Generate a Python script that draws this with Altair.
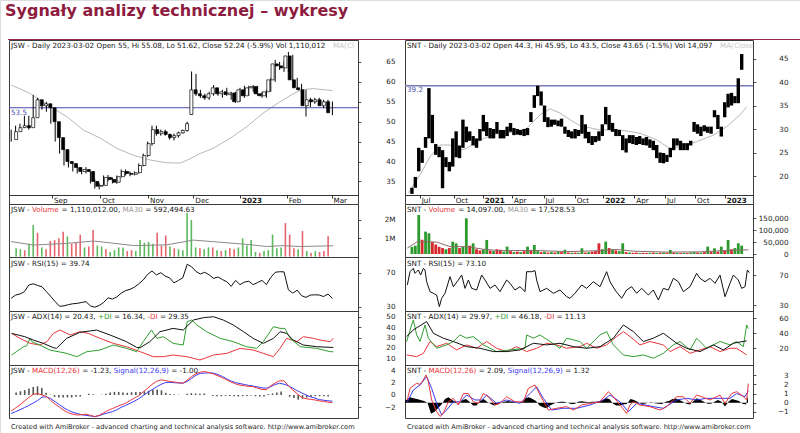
import altair as alt
import pandas as pd

FONT = "DejaVu Sans"
FS = 7.2
W, H = 800, 433

# ---------------------------------------------------------------- JSW (one slot = two sessions)
jsw_month_pos = [9.27, 20.25, 31.1, 41.4, 52.0, 62.6, 72.8]
jsw_month_lab = ["Sep", "Oct", "Nov", "Dec", "2023", "Feb", "Mar"]

jsw_open = [45.5, 47.5, 48.5, 49, 48.5, 51, 55.5, 54, 54.5, 53.5,
            50, 46, 43, 40, 39.5, 38.5, 37.5, 38, 37.5, 35,
            33.8, 34, 36, 35.5, 34.8, 36.2, 37.5, 37, 36.8, 37.2,
            39, 41.5, 44.5, 48, 47, 47.5, 46.8, 46, 46.5, 47.2,
            47.8, 51.8, 58, 57, 56.5, 56, 57, 58.5, 57, 57.5,
            56.8, 57.2, 55, 58, 56.5, 58.5, 58.8, 57, 56.5, 57.5,
            60.5, 64.5, 64, 63.5, 66.5, 60.5, 58.5, 58, 54, 55.5,
            55, 55.5, 54, 55]
jsw_high = [48, 49, 49.5, 51.5, 51.5, 56.7, 56, 55, 55, 54,
            50, 46.5, 43.5, 41, 40, 39, 38.5, 38.6, 37.5, 35.5,
            34.5, 36.5, 36.6, 36, 36.5, 38, 38, 37.5, 37.5, 39.5,
            42, 45, 49, 49, 48, 48, 47, 47, 47.5, 48,
            50, 62.6, 62, 58, 57, 57.5, 59.2, 58.5, 58, 58.5,
            57.5, 57.5, 58.5, 59, 59, 59.2, 59, 57.5, 58, 61,
            65.5, 65, 65, 67.5, 66.8, 61, 59.5, 58, 56, 56,
            56, 55.5, 55.5, 55.08]
jsw_low = [45, 47, 48, 48.5, 48, 51, 53.5, 53, 52.5, 49.5,
           45, 42, 39, 38.5, 37.5, 37, 36.8, 37, 34.5, 33.2,
           33, 34, 35, 34.5, 34.4, 36, 36.5, 36.3, 36.5, 37,
           38.8, 41.2, 44, 46.5, 46.5, 46.5, 45.5, 45.3, 46, 47,
           47.5, 51.7, 56.5, 56, 55.5, 55.5, 56.5, 56.5, 56, 56.5,
           55.5, 54.7, 55, 56, 56.5, 57.5, 56.5, 56, 56, 57.5,
           60, 63, 62.5, 62.5, 60, 58, 57, 51.3, 53.7, 54.5,
           54.2, 53.4, 53.8, 51.62]
jsw_close = [47.5, 48.5, 49, 48.5, 51, 55.5, 54, 54.5, 53.5, 50,
             46, 43, 40, 39.5, 38.5, 37.5, 38, 37.5, 35, 33.8,
             34, 36, 35.5, 34.8, 36.2, 37.5, 37, 36.8, 37.2, 39,
             41.5, 44.5, 48, 47, 47.5, 46.8, 46, 46.5, 47.2, 47.8,
             49.5, 58, 57, 56.5, 56, 57, 58.5, 57, 57.5, 56.8,
             57.2, 55, 58, 56.5, 58.5, 58.8, 57, 56.5, 57.5, 60.5,
             64.5, 64, 63.5, 66.5, 60.5, 58.5, 58, 54, 55.5, 55,
             55.5, 54, 55, 52.24]
jsw_ma_pos = [0, 4.3, 8.8, 12.6, 16.4, 20.2, 24, 27.7, 31.5, 35.3, 38.4, 40.5,
              42.9, 45.9, 49.7, 53.5, 57.2, 61.1, 64.1, 66, 68.6, 73]
jsw_ma = [59.2, 57.1, 53.8, 51.3, 47.9, 45.9, 43.3, 41.6, 40.4, 39.7, 39.6, 40.6,
          42, 43.3, 45.8, 48.7, 52.1, 55, 57, 58, 58.3, 57.8]
jsw_level = [53.5]

jsw_vol = [0.45, 0.4, 0.35, 0.7, 1.73, 1.3, 0.5, 0.4, 0.85, 0.9,
           1.0, 1.35, 1.1, 0.7, 0.75, 1.2, 0.5, 0.55, 1.45, 0.6,
           0.55, 0.4, 0.25, 0.35, 0.5, 0.5, 0.3, 0.35, 0.3, 0.9,
           0.75, 0.8, 0.7, 1.3, 0.6, 1.15, 0.55, 0.45, 0.4, 0.35,
           2.38, 2.0, 0.5, 0.45, 0.4, 0.5, 0.5, 0.35, 0.3, 0.35,
           0.45, 0.4, 0.5, 1.0, 0.6, 0.9, 0.25, 0.2, 0.3, 0.35,
           1.2, 0.45, 0.5, 1.83, 1.2, 0.45, 0.4, 1.4, 0.3, 0.2,
           0.3, 0.25, 0.3, 1.11]
jsw_vol_dir = list("ggrggrgrrr" "rrgrrrgrrg" "grggggrrgg" "gggrrrgrgg"
                   "gggrggrgrg" "rrgggggrgg" "gggrrrgrgr" "grrr")
jsw_vma_pos = [0, 5, 12.6, 18.7, 22.5, 27.8, 35.3, 41.4, 46.7, 54.3, 58, 61.8, 65.6, 73.2]
jsw_vma = [0.82, 0.63, 0.72, 0.85, 0.75, 0.6, 0.64, 0.9, 0.8, 0.65, 0.55, 0.6, 0.55, 0.59]

jsw_rsi = [40, 43.8, 45, 47.7, 55.5, 57, 55, 53.5, 47.7, 42,
           36, 30.5, 31, 32.5, 33.5, 34, 35, 36, 31, 29.5,
           31.5, 35, 40.5, 39, 41.5, 46, 49, 50.5, 53, 57,
           61.4, 68, 72, 67.5, 70, 66, 64, 58, 61, 64,
           80, 77, 71.5, 68.5, 70.5, 67.5, 63.4, 65, 62, 59.4,
           54, 61, 56, 59, 60, 56, 58.5, 61, 56, 64.5,
           70.5, 71.2, 71, 50, 46, 49.5, 43, 41, 43.8, 44,
           43.8, 42, 45, 39.74]

jsw_adx_pos = [0.1, 3.1, 5.0, 7.3, 9.6, 10.3, 12.6, 15.6, 19.4, 22.5, 26.2, 28.5, 29.3, 31.5,
               33.8, 36.8, 39.1, 41.4, 43.7, 46.0, 48.2, 50.5, 52.8, 55.0, 57.3, 59.6, 61.1,
               62.6, 64.1, 66.4, 69.4, 73.2]
jsw_adx = [34, 30.8, 27.6, 24.4, 20.2, 19.6, 29.2, 35, 37.2, 32.4, 26, 20.5, 20.2, 26,
           35.6, 38.8, 37.2, 46.8, 49.1, 50, 46.8, 42, 35.6, 29.2, 24.4, 29.2, 35.6,
           34, 27.6, 22.8, 21.2, 20.43]
jsw_pdi_pos = [0.1, 1.2, 2.8, 3.5, 4.3, 4.7, 6.5, 8.8, 12.6, 14.9, 17.2, 20.2, 23.2, 26.2,
               28.5, 30.0, 31.9, 33.1, 34.6, 36.8, 39.1, 40.0, 41.0, 42.2, 44.4, 47.5, 50.5,
               53.5, 55.8, 57.3, 58.8, 59.6, 61.1, 62.2, 63.4, 65.7, 69.4, 72.5, 73.2]
jsw_pdi = [13.2, 16.4, 21.2, 22, 29.2, 26, 22.8, 18, 14.8, 11.6, 16.4, 18, 22.8, 19.6,
           16.4, 26, 37.2, 29.2, 30.8, 24.4, 22.8, 45.2, 46.8, 42, 35.6, 29.2, 26,
           21.2, 19.6, 26, 35.6, 40.4, 38.8, 38.8, 29.2, 21.2, 19.6, 16.4, 16.34]
jsw_mdi_pos = [0.1, 2.0, 4.3, 6.5, 8.1, 9.6, 11.1, 13.4, 15.6, 17.5, 20.2, 23.2, 26.2, 29.3,
               32.3, 34.6, 36.8, 39.9, 42.9, 46.0, 49.0, 52.0, 55.0, 57.3, 59.6, 61.1, 62.6,
               64.9, 66.4, 68.7, 70.2, 72.5, 73.2]
jsw_mdi = [34, 29.2, 24.4, 22.8, 26, 34, 37.2, 32.4, 35.6, 34, 29.2, 24.4, 21.2, 16.4,
           11.6, 11.6, 13.2, 11.6, 8.4, 13.2, 14.8, 19.6, 18, 14.8, 11.6, 19.6, 29.2,
           26, 30.8, 29.2, 27.6, 26, 29.35]

jsw_macd = [-2.6, -2.1, -1.6, -1.0, -0.4, 0.1, 0.25, 0.0, -0.25, -0.9,
            -1.5, -2.0, -2.5, -2.9, -3.1, -3.25, -3.2, -3.1, -3.3, -3.5,
            -3.3, -2.9, -2.5, -2.2, -1.9, -1.6, -1.35, -0.9, -0.5, -0.1,
            0.5, 1.1, 1.7, 2.2, 2.45, 2.35, 2.2, 2.1, 2.0, 1.9,
            2.4, 3.0, 3.45, 3.7, 3.8, 3.6, 3.4, 3.1, 2.8, 2.45,
            2.1, 1.8, 1.6, 1.5, 1.4, 1.35, 1.1, 0.9, 0.85, 1.5,
            1.95, 2.3, 2.3, 1.5, 0.8, 0.2, -0.4, -0.6, -0.7, -0.8,
            -0.95, -1.05, -1.15, -1.23]
jsw_signal = [-3.0, -2.7, -2.4, -2.05, -1.7, -1.3, -0.9, -0.35, -0.3, -0.6,
              -1.1, -1.6, -2.1, -2.5, -2.8, -3.0, -3.2, -3.3, -3.4, -3.5,
              -3.35, -3.1, -2.9, -2.7, -2.4, -2.0, -1.7, -1.35, -1.0, -0.6,
              -0.1, 0.4, 0.85, 1.3, 1.7, 2.0, 2.05, 2.0, 1.95, 1.9,
              2.2, 2.7, 3.2, 3.5, 3.55, 3.6, 3.55, 3.3, 3.0, 2.6,
              2.25, 2.0, 1.85, 1.7, 1.55, 1.45, 1.3, 1.15, 1.1, 1.35,
              1.7, 1.9, 1.75, 1.5, 1.1, 0.7, 0.35, 0.0, -0.3, -0.5,
              -0.75, -0.85, -0.95, -1.0]

# ---------------------------------------------------------------- SNT (x = session index)
snt_q_pos = [20, 90, 150, 210, 275, 339, 398, 462, 525, 587, 648]
snt_q_lab = ["Jul", "Oct", "2021", "Apr", "Jul", "Oct", "2022", "Apr", "Jul", "Oct", "2023"]

snt_low = [16.2, 17.5, 21, 22.8, 26, 28, 27, 24.5, 24, 17.4,
           21.9, 21, 22, 24, 23.8, 26, 27.2, 27.5, 26.5, 26,
           27.5, 29.5, 28.5, 28, 28, 29, 28, 28, 28.5, 29.4,
           28.7, 28.8, 28.7, 28.5, 28.7, 31.5, 34.5, 37, 35, 31.5,
           30.4, 30.5, 30.9, 30.6, 30.5, 29, 28.3, 28, 28, 28.5,
           29, 28, 27, 26.6, 27.2, 27.5, 28.5, 31, 29.8, 29.4,
           28.5, 28.5, 25.5, 25, 27, 26.8, 26.6, 26.8, 26.6, 26.5,
           26, 25.5, 23.8, 22.8, 22.7, 23, 24, 25.5, 26.5, 25.5,
           25.5, 25.5, 26.5, 29.4, 29, 28.5, 29.5, 29.2, 29, 32.5,
           30, 28.4, 32.5, 34.6, 35, 35.5, 35.5, 42.6]
snt_high = [17.5, 19.8, 26, 25.5, 28.3, 38.7, 33, 26.8, 26.2, 25.5,
            24, 23, 28, 29.5, 26.5, 32, 30.5, 29.5, 28.5, 28,
            30, 33, 31.5, 30.2, 30, 31.5, 29.8, 29.8, 30.5, 31.3,
            30.2, 30, 29.8, 30, 30.2, 33.6, 37.2, 39.2, 38, 35,
            32.5, 32, 32, 31.8, 32.2, 30.5, 29.8, 29.5, 30, 29.8,
            33, 31, 29.4, 28.5, 28.5, 29.5, 31, 34.7, 33, 31.3,
            30, 29.8, 28.7, 28, 28.7, 28.7, 28.3, 28.5, 28, 28.3,
            27.8, 27.5, 26.6, 25, 24.9, 24.5, 26, 28, 28, 27.5,
            27, 27, 27.5, 31.5, 31, 30.5, 30.8, 30.5, 30.5, 34,
            33, 30.5, 35.7, 37.5, 37.7, 37, 40.8, 45.95]
snt_ma_pos = [6.7, 30, 50, 70, 90, 103.3, 123.3, 150, 183.3, 216.7, 243.3, 270, 290, 310,
              330, 350, 390, 430, 470, 503.3, 530, 550, 583.3, 616.7, 643.3, 670, 683.3]
snt_ma = [16.4, 20.2, 24.1, 26.6, 26.6, 25.2, 25.9, 27.7, 29, 29.3, 30.1, 33, 34.3, 33.4,
          32, 30.7, 29.8, 29.8, 29.1, 27.7, 25.8, 26.3, 27.3, 28.7, 30.5, 33, 34.7]
snt_level = [39.2]

snt_vol_k = [30, 35, 164, 60, 94, 87, 50, 40, 30, 25,
             20, 25, 52, 45, 25, 30, 150, 35, 45, 20,
             15, 20, 59, 15, 12, 20, 18, 10, 31, 12,
             8, 10, 8, 12, 31, 15, 38, 12, 8, 10,
             6, 8, 6, 10, 8, 18, 6, 5, 6, 5,
             24, 6, 8, 10, 12, 45, 20, 52, 25, 20,
             15, 12, 45, 8, 6, 5, 6, 4, 5, 4,
             5, 6, 4, 5, 6, 5, 17, 6, 5, 4,
             5, 4, 6, 8, 6, 5, 8, 31, 10, 24,
             10, 31, 15, 59, 20, 25, 45, 35]
snt_vol_dir = list("gggrggrrrr" "grggrggrgr" "rggrgrrggr" "grgrgrggrg"
                   "rgrgrgrgrg" "grgrrrggrg" "rggrgrrgrr" "grgrgrgrgr"
                   "grggrgrgrg" "rgrgrggg")
snt_vma_pos = [4.7, 23.3, 43.3, 63.3, 90, 123.3, 156.7, 190, 256.7, 323.3, 390, 423.3,
               456.7, 523.3, 590, 623.3, 686.7]
snt_vma_k = [25, 50, 52, 50, 31, 31, 20, 14, 15, 10, 14, 19, 12, 8, 9, 13, 17.5]

snt_rsi_pos = [4.7, 10, 16.7, 20, 23.3, 26.7, 31.3, 36.7, 40, 43.3,
               50, 56.7, 63.3, 68.7, 73.3, 80, 90, 96.7, 106.7, 113.3,
               120, 126.7, 133.3, 143.3, 153.3, 160, 170, 180, 190, 203.3,
               210, 220, 230, 240, 243.3, 253.3, 260, 263.3, 270, 283.3,
               296.7, 310, 323.3, 330, 340, 353.3, 363.3, 376.7, 390, 403.3,
               410, 420, 433.3, 443.3, 453.3, 463.3, 473.3, 486.7, 496.7, 506.7,
               516.7, 526.7, 536.7, 546.7, 556.7, 570, 583.3, 590, 600, 610,
               620, 630, 640, 650, 656.7, 666.7, 673.3, 680, 684.7, 688.7]
snt_rsi = [56.7, 74.4, 78.9, 72.2, 74.4, 76.7, 70, 78.9, 76.7, 61.1,
           47.8, 45.6, 43.3, 27.8, 38.9, 45.6, 67.8, 54.4, 63.3, 70,
           52.2, 63.3, 52.2, 50, 70, 63.3, 52.2, 56.7, 47.8, 63.3,
           58.9, 50, 54.4, 47.8, 74.4, 74.4, 75.8, 63.3, 47.8, 52.2,
           45.6, 50, 41.1, 38.9, 45.6, 56.7, 52.2, 61.1, 54.4, 74.4,
           61.1, 50, 38.9, 50, 54.4, 45.6, 52.2, 43.3, 50, 36.7,
           52.2, 50, 65.6, 61.1, 47.8, 54.4, 72.2, 65.6, 61.1, 65.6,
           58.9, 70, 41.1, 58.9, 70, 63.3, 52.2, 54.4, 76.7, 73.1]

snt_adx_pos = [3.3, 16.7, 43.3, 56.7, 76.7, 96.7, 123.3, 150, 176.7, 203.3,
               230, 256.7, 283.3, 310, 336.7, 363.3, 390, 416.7, 436.7, 456.7,
               476.7, 496.7, 516.7, 530, 543.3, 563.3, 590, 616.7, 636.7, 656.7, 683.3]
snt_adx = [35.6, 44.5, 55.6, 40, 33.4, 29, 22.2, 20, 15.6, 15.6,
           17.8, 26.7, 24.5, 26.7, 22.2, 20, 22.2, 33.4, 51.1, 42.2,
           29, 33.4, 40, 33.4, 26.7, 20, 15.6, 24.5, 17.8, 26.7, 29.97]
snt_pdi_pos = [3.3, 13.3, 16.7, 23.3, 30, 40, 46.7, 63.3, 83.3, 96.7,
               110, 123.3, 136.7, 156.7, 183.3, 210, 240, 243.3, 256.7, 270,
               290, 310, 323.3, 350, 363.3, 390, 403.3, 416.7, 436.7, 456.7,
               476.7, 496.7, 516.7, 536.7, 550, 570, 583.3, 603.3, 630, 650,
               663.3, 676.7, 683.3, 686.7]
snt_pdi = [29, 51.1, 57.8, 37.8, 29, 51.1, 33.4, 20, 24.5, 29,
           37.8, 33.4, 35.6, 24.5, 15.6, 17.8, 20, 37.8, 33.4, 37.8,
           29, 20, 33.4, 29, 20, 37.8, 42.2, 24.5, 11.1, 8.9,
           11.1, 6.7, 13.3, 24.5, 29, 17.8, 33.4, 20, 29, 24.5,
           29, 22.2, 51.1, 46.18]
snt_mdi_pos = [3.3, 23.3, 36.7, 50, 63.3, 83.3, 103.3, 123.3, 143.3, 163.3,
               183.3, 203.3, 223.3, 243.3, 263.3, 283.3, 303.3, 323.3, 350, 363.3,
               383.3, 403.3, 423.3, 436.7, 450, 470, 490, 516.7, 530, 550,
               570, 590, 610, 630, 650, 663.3, 683.3]
snt_mdi = [11.1, 8.9, 13.3, 29, 22.2, 26.7, 17.8, 24.5, 20, 29,
           20, 15.6, 22.2, 15.6, 20, 26.7, 24.5, 20, 22.2, 26.7,
           20, 24.5, 35.6, 42.2, 35.6, 24.5, 29, 24.5, 15.6, 22.2,
           13.3, 17.8, 22.2, 15.6, 20, 20, 11.13]

snt_macd_pos = [4.7, 10, 23.3, 30, 36.7, 42, 46.7, 53.3, 63.3, 70,
                76.7, 86.7, 96.7, 106.7, 116.7, 126.7, 136.7, 146.7, 156.7, 166.7,
                180, 190, 203.3, 220, 236.7, 246.7, 260, 270, 286.7, 303.3,
                323.3, 336.7, 353.3, 370, 390, 406.7, 416.7, 430, 443.3, 450,
                456.7, 470, 490, 510, 523.3, 543.3, 556.7, 570, 583.3, 593.3,
                610, 630, 640, 653.3, 663.3, 676.7, 683.3, 686.7]
snt_macd = [0.3, 1.57, 2.12, 2.0, 2.5, 3.03, 2.3, 0.3, -0.98, -1.5,
            -1.16, 0.1, 0.48, -0.25, 1.0, 1.0, 0.1, -0.07, 1.0, 0.66,
            -0.25, -0.07, 0.66, 0.1, 0.1, 1.57, 1.94, 0.84, -0.8, -0.61,
            -0.43, -0.8, -0.25, -0.07, 0.1, 1.21, 0.66, -0.25, -1.16, -0.25,
            0.1, -0.25, -0.43, -0.8, -0.43, 0.66, 0.66, -0.07, 0.84, 0.66,
            0.3, 0.84, -0.07, 1.0, 1.21, 0.66, 0.3, 2.09]
snt_sig_pos = [4.7, 16.7, 30, 43.3, 53.3, 63.3, 73.3, 83.3, 96.7, 110,
               123.3, 140, 153.3, 163.3, 183.3, 203.3, 230, 250, 263.3, 276.7,
               293.3, 316.7, 343.3, 370, 396.7, 410, 430, 446.7, 463.3, 496.7,
               516.7, 543.3, 563.3, 583.3, 603.3, 630, 650, 663.3, 680, 686.7]
snt_signal = [0.1, 1.39, 1.94, 2.85, 1.57, -0.07, -1.34, -0.8, 0.1, 0.1,
              0.84, 0.3, 0.3, 0.84, -0.07, 0.3, -0.07, 1.0, 1.74, 0.48,
              -0.8, -0.61, -0.61, -0.25, 0.3, 0.84, 0.1, -0.98, -0.07, -0.43,
              -0.61, 0.3, 0.48, 0.3, 0.48, 0.48, 0.48, 1.0, 0.66, 1.32]
snt_hist_pos = [0, 10] + list(range(17, 683, 7)) + [686]
snt_hist = [0.2, 0.6, 0.5, 0.4, 0.3, 0.2, 0.0, -1.2, -1.0, -0.6,
            -0.2, 0.4, 0.6, 0.3, 0.1, -0.1, 0.3, 0.4, 0.1, -0.3,
            -0.3, 0.2, 0.4, 0.1, -0.1, -0.3, -0.2, 0.0, 0.1, 0.2,
            0.1, 0.05, 0.0, 0.1, 0.5, 0.6, 0.4, 0.2, -0.3, -0.5,
            -0.6, -0.3, -0.1, 0.05, 0.1, 0.1, 0.0, -0.15, -0.15, 0.1,
            0.15, 0.1, 0.05, 0.1, 0.1, 0.15, 0.3, 0.5, 0.4, -0.1,
            -0.3, -0.3, -0.2, -0.1, 0.4, 0.3, 0.1, -0.1, -0.1, 0.0,
            0.05, -0.05, -0.1, -0.15, 0.1, 0.2, 0.4, 0.45, 0.3, 0.1,
            -0.1, -0.2, 0.2, 0.5, 0.3, 0.1, -0.1, -0.1, 0.1, 0.3,
            0.1, -0.4, 0.1, 0.4, 0.3, 0.2, -0.1, -0.2, 0.77]

# ---------------------------------------------------------------- layout (pixels)
XR = {"j": ([-0.5, 78.82], [9, 358]), "s": ([0, 696], [405, 753])}
PANEL = {
    "j_price": ([31.6, 70.5], [195, 40]), "s_price": ([15.96, 48.94], [195, 40]),
    "j_vol": ([0, 2.87], [256.6, 204]), "s_vol": ([-12.6, 210.1], [257, 204]),
    "j_rsi": ([25, 88.5], [311, 257]), "s_rsi": ([22, 94], [311, 257]),
    "j_adx": ([3.6, 55.5], [365, 311]), "s_adx": ([-2.3, 69.7], [365, 311]),
    "j_macd": ([-3.73, 4.86], [418, 365]), "s_macd": ([-1.67, 4.12], [418, 365]),
}
BOX = {"j": (9.5, 358.5), "s": (405.5, 753.5)}
ROWS = [(40.5, 204.5), (204.5, 257.5), (257.5, 311.5), (311.5, 365.5), (365.5, 418.5)]

GREEN, RED, BLUE, DARK = "#2f9e2f", "#e8363c", "#3a3af0", "#151515"

# DejaVu Sans advance widths (em) used to lay out multi-coloured captions
_W = {" ": .318, "(": .390, ")": .390, "+": .838, ",": .318, "-": .361, ".": .318, "=": .838,
      "%": .950, "0": .636, "1": .636, "2": .636, "3": .636, "4": .636, "5": .636, "6": .636,
      "7": .636, "8": .636, "9": .636, "A": .684, "C": .698, "D": .770, "I": .295, "J": .295,
      "M": .863, "N": .748, "R": .695, "S": .635, "T": .611, "V": .684, "W": .989, "X": .685,
      "a": .613, "e": .615, "g": .635, "i": .278, "l": .278, "m": .974, "n": .634, "o": .612,
      "u": .634}


def tw(s, size=FS):
    return sum(_W.get(ch, 0.6) for ch in s) * size


def X(field, side, axis=None):
    d, r = XR[side]
    return alt.X(f"{field}:Q", scale=alt.Scale(domain=d, range=r, nice=False, zero=False), axis=axis)


def Y(field, panel, axis=None):
    d, r = PANEL[panel]
    return alt.Y(f"{field}:Q", scale=alt.Scale(domain=d, range=r, nice=False, zero=False), axis=axis)


def yaxis(side, values, expr=None):
    kw = dict(orient="right", offset=-(W - (358 if side == "j" else 753)), values=values,
              tickSize=3, tickColor="#555", labelPadding=34 if side == "j" else 32,
              labelAlign="right", labelBaseline="middle", labelFont=FONT, labelFontSize=FS,
              labelColor="#222", domain=False, grid=False, title=None, labelOverlap=False,
              labelFlush=False)
    if expr:
        kw["labelExpr"] = expr
    return alt.Axis(**kw)


def month_axis(pos, lab):
    expr = "''"
    for p, l in zip(pos, lab):
        expr = f"datum.value == {p} ? '{l}' : ({expr})"
    test = " || ".join(f"datum.value == {p}" for p, l in zip(pos, lab) if l.isdigit())
    return alt.Axis(orient="bottom", offset=-(H - 195), values=pos, labelExpr=expr, tickSize=3,
                    tickColor="#333", domainColor="#333", labelAlign="left", labelBaseline="top",
                    labelPadding=-2, labelOffset=1.5, labelFont=FONT, labelFontSize=FS,
                    labelColor="#111", labelOverlap=False, labelFlush=False, grid=False, title=None,
                    labelFontWeight={"condition": {"test": test, "value": "bold"}, "value": "normal"})


ONE = pd.DataFrame({"a": [0]})


def txt(s, x, y, color=DARK, size=FS, weight="normal", font=FONT):
    return alt.Chart(pd.DataFrame({"t": [s]})).mark_text(
        align="left", baseline="alphabetic", font=font, fontSize=size, fontWeight=weight, color=color
    ).encode(x=alt.value(x), y=alt.value(y), text="t:N")


def caption(parts, x0, y):
    out, x = [], x0
    for s, c in parts:
        lead = len(s) - len(s.lstrip(" "))
        body = s.strip(" ")
        if body:
            out.append(txt(body, x + tw(" " * lead), y, c))
        x += tw(s)
    return out


def frame(side, row):
    x1, x2 = BOX[side]
    y1, y2 = ROWS[row]
    return alt.Chart(ONE).mark_rect(fillOpacity=0, stroke="#3c3c3c", strokeWidth=1).encode(
        x=alt.value(x1), x2=alt.value(x2), y=alt.value(y1), y2=alt.value(y2))


def line(xs, ys, side, panel, color, width=1, axis=None):
    df = pd.DataFrame({"x": xs, "v": ys})
    return alt.Chart(df).mark_line(color=color, strokeWidth=width, interpolate="linear").encode(
        x=X("x", side), y=Y("v", panel, axis))


layers = []

for side in "js":
    for row in range(5):
        layers.append(frame(side, row))

# ---------------- JSW price
jslot = list(range(len(jsw_close)))
jdf = pd.DataFrame({"x": jslot, "o": jsw_open, "h": jsw_high, "l": jsw_low, "c": jsw_close})
jdf["fill"] = ["#ffffff" if c >= o else "#000000" for o, c in zip(jsw_open, jsw_close)]
layers.append(line(jsw_ma_pos, jsw_ma, "j", "j_price", "#b8b8b8"))
layers.append(alt.Chart(pd.DataFrame({"v": jsw_level})).mark_rule(color="#4b4bb0", strokeWidth=1).encode(
    y=Y("v", "j_price"), x=alt.value(9), x2=alt.value(358)))
layers.append(alt.Chart(jdf).mark_rule(color="black", strokeWidth=1).encode(
    x=X("x", "j", month_axis(jsw_month_pos, jsw_month_lab)),
    y=Y("l", "j_price", yaxis("j", [35, 40, 45, 50, 55, 60, 65])), y2="h:Q"))
layers.append(alt.Chart(jdf).mark_bar(size=3, stroke="black", strokeWidth=0.7).encode(
    x=X("x", "j"), y=Y("o", "j_price"), y2="c:Q", fill=alt.Fill("fill:N", scale=None)))

# ---------------- JSW volume
jv = pd.DataFrame({"x": jslot, "v": jsw_vol, "z": 0,
                   "col": ["#5cba5c" if d == "g" else "#e6646d" for d in jsw_vol_dir]})
layers.append(alt.Chart(jv).mark_bar(size=1.6).encode(
    x=X("x", "j"), y=Y("v", "j_vol", yaxis("j", [1, 2], "datum.value + 'M'")), y2="z:Q",
    color=alt.Color("col:N", scale=None)))
layers.append(line(jsw_vma_pos, jsw_vma, "j", "j_vol", "#8a8a8a"))

# ---------------- JSW RSI / ADX / MACD
layers.append(line(jslot, jsw_rsi, "j", "j_rsi", "#111", 1, yaxis("j", [30, 70])))
layers.append(line(jsw_mdi_pos, jsw_mdi, "j", "j_adx", RED, 1, yaxis("j", [10, 20, 30, 40, 50])))
layers.append(line(jsw_pdi_pos, jsw_pdi, "j", "j_adx", GREEN))
layers.append(line(jsw_adx_pos, jsw_adx, "j", "j_adx", "#111"))
jm = pd.DataFrame({"x": jslot, "h": [m - s for m, s in zip(jsw_macd, jsw_signal)], "z": 0})
layers.append(alt.Chart(jm).mark_bar(size=1.6, color="#555").encode(
    x=X("x", "j"), y=Y("h", "j_macd", yaxis("j", [-2, 0, 2, 4])), y2="z:Q"))
layers.append(line(jslot, jsw_signal, "j", "j_macd", BLUE))
layers.append(line(jslot, jsw_macd, "j", "j_macd", RED))

# ---------------- SNT price
spos = [4 + 7 * i for i in range(len(snt_high))]
sdf = pd.DataFrame({"x": spos, "h": snt_high, "l": snt_low})
layers.append(line(snt_ma_pos, snt_ma, "s", "s_price", "#b8b8b8"))
layers.append(alt.Chart(pd.DataFrame({"v": snt_level})).mark_rule(color="#7a7ab8", strokeWidth=1.5).encode(
    y=Y("v", "s_price"), x=alt.value(405), x2=alt.value(753)))
layers.append(alt.Chart(sdf).mark_bar(size=3.4, color="#000").encode(
    x=X("x", "s", month_axis(snt_q_pos, snt_q_lab)),
    y=Y("l", "s_price", yaxis("s", [20, 25, 30, 35, 40, 45])), y2="h:Q"))

# ---------------- SNT volume
sv = pd.DataFrame({"x": spos, "v": snt_vol_k, "z": 0,
                   "col": ["#2c9a2c" if d == "g" else "#d8282e" for d in snt_vol_dir]})
layers.append(alt.Chart(sv).mark_bar(size=2.8).encode(
    x=X("x", "s"), y=Y("v", "s_vol", yaxis("s", [0, 50, 100, 150], "format(datum.value * 1000, ',')")),
    y2="z:Q", color=alt.Color("col:N", scale=None)))
layers.append(line(snt_vma_pos, snt_vma_k, "s", "s_vol", "#8a6a6a"))

# ---------------- SNT RSI / ADX / MACD
layers.append(line(snt_rsi_pos, snt_rsi, "s", "s_rsi", "#111", 1, yaxis("s", [30, 70])))
layers.append(line(snt_mdi_pos, snt_mdi, "s", "s_adx", RED, 1, yaxis("s", [20, 40, 60])))
layers.append(line(snt_pdi_pos, snt_pdi, "s", "s_adx", GREEN))
layers.append(line(snt_adx_pos, snt_adx, "s", "s_adx", "#111"))
sh = pd.DataFrame({"x": snt_hist_pos, "h": snt_hist, "z": 0})
layers.append(alt.Chart(sh).mark_area(color="#000").encode(
    x=X("x", "s"), y=Y("h", "s_macd", yaxis("s", [-1, 0, 1, 2, 3])), y2="z:Q"))
layers.append(line(snt_sig_pos, snt_signal, "s", "s_macd", BLUE))
layers.append(line(snt_macd_pos, snt_macd, "s", "s_macd", RED))

# ---------------- texts
layers.append(txt("Sygnały analizy technicznej – wykresy", 5, 16, "#8e1c3e", 16, "bold"))
layers.append(alt.Chart(ONE).mark_rule(color="#9c2a48", strokeWidth=1.2).encode(
    x=alt.value(8), x2=alt.value(800), y=alt.value(39.5)))

layers.append(txt("JSW - Daily 2023-03-02 Open 55, Hi 55.08, Lo 51.62, Close 52.24 (-5.9%) Vol 1,110,012", 11, 47.5))
layers.append(txt("MA(Cl", 333, 47.5, "#c8c8c8"))
layers.append(txt("53.5", 11, 114.5, "#4b4bb0"))
layers.append(txt("SNT - Daily 2023-03-02 Open 44.3, Hi 45.95, Lo 43.5, Close 43.65 (-1.5%) Vol 14,097", 407, 47.5))
layers.append(txt("MA(Close", 720, 47.5, "#c8c8c8"))
layers.append(txt("39.2", 407, 92, "#5050a8"))

layers += caption([("JSW - ", DARK), ("Volume", RED), (" = 1,110,012.00, ", DARK),
                   ("MA30", "#999"), (" = 592,494.63", DARK)], 11, 211.5)
layers += caption([("SNT - ", DARK), ("Volume", RED), (" = 14,097.00, ", DARK),
                   ("MA30", "#999"), (" = 17,528.53", DARK)], 407, 211.5)
layers.append(txt("JSW - RSI(15) = 39.74", 11, 265.5))
layers.append(txt("SNT - RSI(15) = 73.10", 407, 265.5))
layers += caption([("JSW - ADX(14) = 20.43, ", DARK), ("+DI", GREEN), (" = 16.34, ", DARK),
                   ("-DI", RED), (" = 29.35", DARK)], 11, 319)
layers += caption([("SNT - ADX(14) = 29.97, ", DARK), ("+DI", GREEN), (" = 46.18, ", DARK),
                   ("-DI", RED), (" = 11.13", DARK)], 407, 319)
layers += caption([("JSW - ", DARK), ("MACD(12,26)", RED), (" = -1.23, ", DARK),
                   ("Signal(12,26,9)", BLUE), (" = -1.00", DARK)], 11, 373)
layers += caption([("SNT - ", DARK), ("MACD(12,26)", RED), (" = 2.09, ", DARK),
                   ("Signal(12,26,9)", BLUE), (" = 1.32", DARK)], 407, 373)
foot = "Created with AmiBroker - advanced charting and technical analysis software. http://www.amibroker.com"
layers.append(txt(foot, 11, 429, "#222", 6.6))
layers.append(txt(foot, 407, 429, "#222", 6.6))

chart = alt.layer(*layers).resolve_scale(x="independent", y="independent").properties(
    width=W, height=H, autosize=alt.AutoSizeParams(type="none"), padding=0
).configure_view(stroke=None).configure(background="white")

chart.save("out.html", embed_options={"renderer": "svg", "actions": False})
